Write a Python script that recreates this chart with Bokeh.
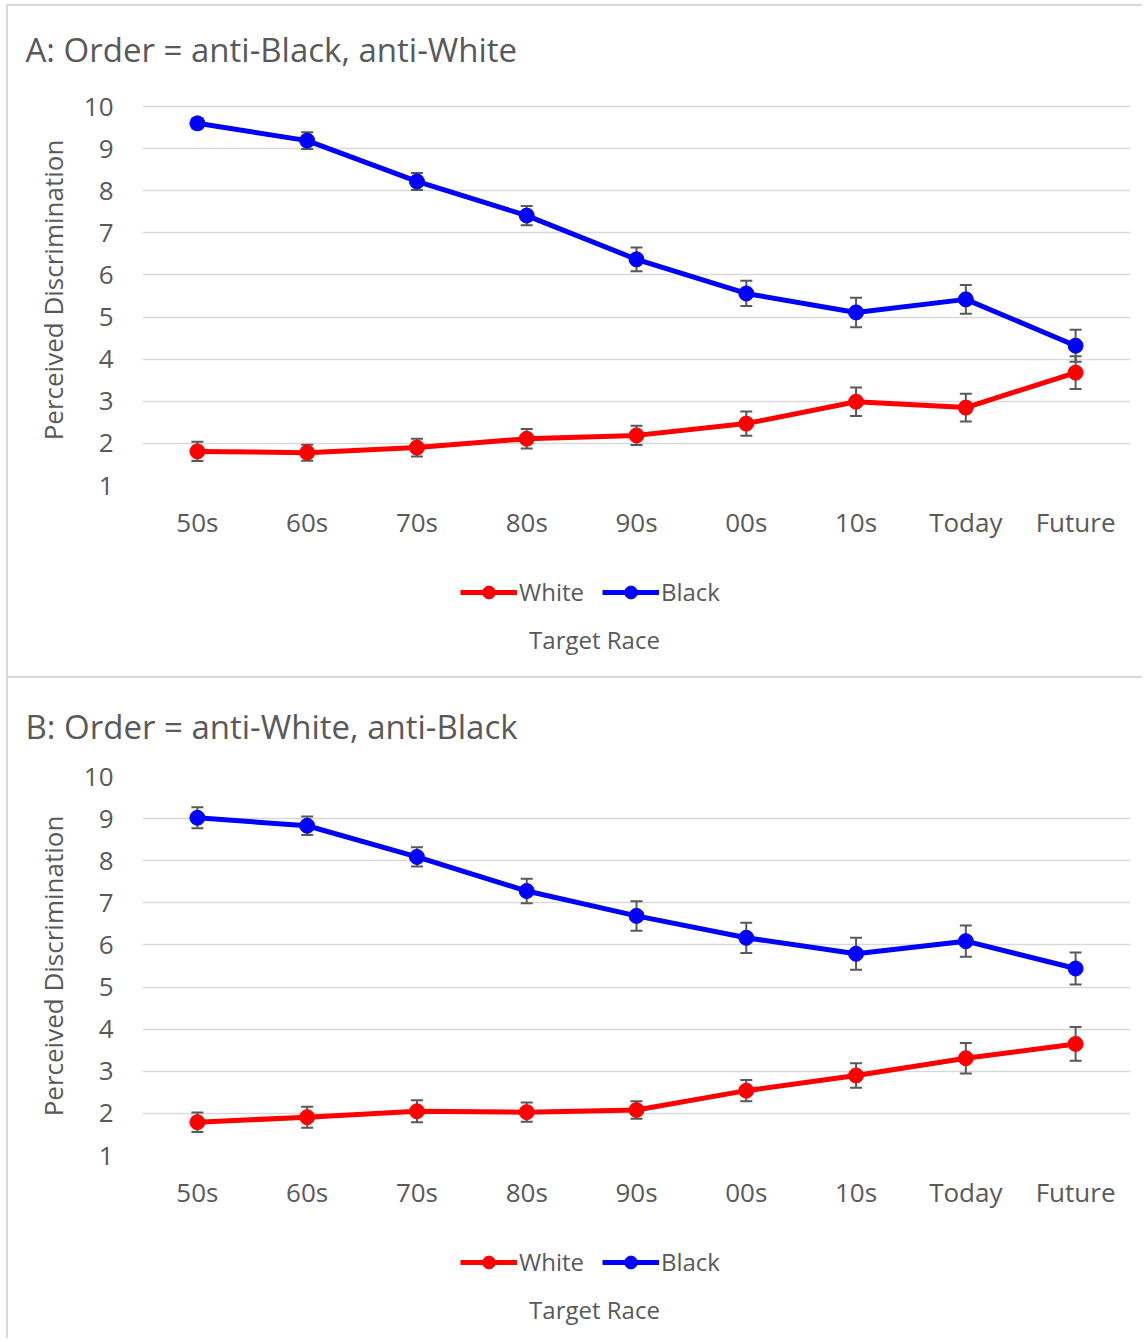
import numpy as np
from bokeh.plotting import figure
from bokeh.models import (FactorRange, Range1d, FixedTicker, Whisker, TeeHead,
                          ColumnDataSource, Legend, LegendItem, Label)
from bokeh.layouts import column
from bokeh.embed import file_html
from bokeh.resources import INLINE

periods = ["50s", "60s", "70s", "80s", "90s", "00s", "10s", "Today", "Future"]
y_ticks = [1, 2, 3, 4, 5, 6, 7, 8, 9, 10]
series_names = ["White", "Black"]
series_colors = ["#ff0000", "#0000ff"]

a_white = [1.81, 1.78, 1.90, 2.11, 2.19, 2.47, 2.99, 2.85, 3.68]
a_white_err = [0.23, 0.19, 0.21, 0.23, 0.23, 0.29, 0.34, 0.33, 0.39]
a_black = [9.60, 9.19, 8.22, 7.41, 6.37, 5.56, 5.11, 5.42, 4.32]
a_black_err = [0.12, 0.20, 0.20, 0.23, 0.28, 0.30, 0.35, 0.34, 0.38]

b_white = [1.79, 1.91, 2.05, 2.03, 2.08, 2.54, 2.90, 3.31, 3.65]
b_white_err = [0.23, 0.25, 0.26, 0.23, 0.21, 0.25, 0.29, 0.36, 0.40]
b_black = [9.02, 8.83, 8.09, 7.28, 6.69, 6.17, 5.79, 6.09, 5.44]
b_black_err = [0.25, 0.22, 0.23, 0.29, 0.35, 0.36, 0.38, 0.37, 0.38]

TXT = "#595959"
FONT = "Open Sans"
GRID = "#d9d9d9"
BORDER = "#d9d9d9"
W = 1136
PX_PER_UNIT = 379 / 9


def main_fig(title, white, white_err, black, black_err, height, top, standoff, margin):
    frame_h = height - top - 70
    y_end = 1 + frame_h / PX_PER_UNIT
    p = figure(x_range=FactorRange(factors=periods), y_range=Range1d(1, y_end),
               width=W, height=height, output_backend="svg", toolbar_location=None,
               min_border_left=134, min_border_right=14, min_border_top=top,
               min_border_bottom=70, margin=margin,
               styles={"border-left": f"2px solid {BORDER}",
                       "border-top": f"2px solid {BORDER}"})
    p.outline_line_color = None
    p.xgrid.grid_line_color = None
    p.ygrid.grid_line_color = GRID
    p.ygrid.grid_line_width = 1.5
    p.yaxis.ticker = FixedTicker(ticks=y_ticks)
    for ax in (p.xaxis[0], p.yaxis[0]):
        ax.axis_line_color = None
        ax.major_tick_line_color = None
        ax.minor_tick_line_color = None
        ax.major_tick_out = 0
        ax.major_tick_in = 0
        ax.major_label_text_font = FONT
        ax.major_label_text_font_size = "26px"
        ax.major_label_text_color = TXT
    p.xaxis.major_label_standoff = 18
    p.yaxis.major_label_standoff = 29
    p.yaxis.axis_label = "Perceived Discrimination"
    p.yaxis.axis_label_text_font = FONT
    p.yaxis.axis_label_text_font_size = "26px"
    p.yaxis.axis_label_text_font_style = "normal"
    p.yaxis.axis_label_text_color = TXT
    p.yaxis.axis_label_standoff = 10

    p.title.text = title
    p.title.text_font = FONT
    p.title.text_font_size = "33px"
    p.title.text_font_style = "normal"
    p.title.text_color = TXT
    p.title.align = "left"
    p.title.vertical_align = "top"
    p.title.offset = -117
    p.title.standoff = standoff

    for vals, errs, color in ((white, white_err, series_colors[0]),
                              (black, black_err, series_colors[1])):
        src = ColumnDataSource(dict(
            x=periods, y=vals,
            upper=[v + e for v, e in zip(vals, errs)],
            lower=[v - e for v, e in zip(vals, errs)]))
        p.add_layout(Whisker(base="x", upper="upper", lower="lower", source=src,
                             level="underlay", line_color=TXT, line_width=2,
                             upper_head=TeeHead(size=12, line_color=TXT, line_width=2),
                             lower_head=TeeHead(size=12, line_color=TXT, line_width=2)))
        p.line("x", "y", source=src, line_color=color, line_width=5)
        p.scatter("x", "y", source=src, marker="circle", size=15,
                  fill_color=color, line_color=color)
    return p


def legend_strip(height, leg_y, xl_y):
    s = figure(width=W, height=height, x_range=Range1d(0, 1), y_range=Range1d(0, 1),
               output_backend="svg", toolbar_location=None, title=None,
               x_axis_location=None, y_axis_location=None, min_border=0,
               margin=(0, 0, 0, 6), styles={"border-left": f"2px solid {BORDER}"})
    s.grid.visible = False
    s.outline_line_color = None
    items = []
    for name, color in zip(series_names, series_colors):
        empty = ColumnDataSource(dict(x=np.array([0.0]), y=np.array([np.nan])))
        ln = s.line("x", "y", source=empty, line_color=color, line_width=5)
        sc = s.scatter("x", "y", source=empty, marker="circle", size=15,
                       fill_color=color, line_color=color)
        items.append(LegendItem(label=name, renderers=[ln, sc]))
    s.add_layout(Legend(items=items, orientation="horizontal", location=(318, leg_y),
                        glyph_width=57, glyph_height=32, label_height=32,
                        label_standoff=2, spacing=18, padding=0, margin=0,
                        border_line_color=None, background_fill_alpha=0,
                        label_text_font=FONT, label_text_font_size="24px",
                        label_text_color=TXT))
    s.add_layout(Label(x=452, y=xl_y, x_units="screen", y_units="screen",
                       text="Target Race", text_font=FONT, text_font_size="24px",
                       text_color=TXT, text_baseline="middle", text_align="center"))
    return s


pA = main_fig("A: Order = anti-Black, anti-White", a_white, a_white_err, a_black, a_black_err,
              549, 88, 41, (4, 0, 0, 6))
sA = legend_strip(123, 68, 37)
pB = main_fig("B: Order = anti-White, anti-Black", b_white, b_white_err, b_black, b_black_err,
              547, 98, 51, (0, 0, 0, 6))
sB = legend_strip(115, 60, 29)

layout = column(pA, sA, pB, sB)
open("out.html", "w").write(file_html(layout, INLINE))
